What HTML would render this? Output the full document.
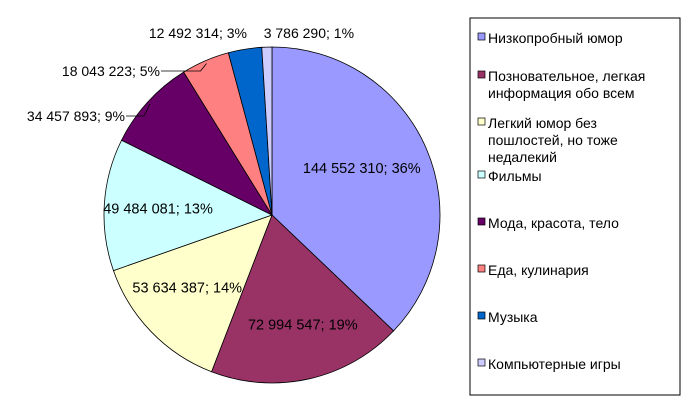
<!DOCTYPE html>
<html><head><meta charset="utf-8"><style>
body{margin:0;background:#fff;}
svg{display:block;font-family:"Liberation Sans",Arial,sans-serif;font-size:14px;}
</style></head><body>
<svg width="699" height="417">
<g id="slices"></g>
<g id="labels"></g>
<rect x="470" y="18" width="210" height="377" fill="#fff" stroke="#000" stroke-width="1"/>
<g id="legend"></g>
</svg>
<script>
const categories=["Низкопробный юмор","Позновательное, легкая информация обо всем","Легкий юмор без пошлостей, но тоже недалекий","Фильмы","Мода, красота, тело","Еда, кулинария","Музыка","Компьютерные игры"];
const values=[144552310,72994547,53634387,49484081,34457893,18043223,12492314,3786290];
const valueLabels=["144 552 310; 36%","72 994 547; 19%","53 634 387; 14%","49 484 081; 13%","34 457 893; 9%","18 043 223; 5%","12 492 314; 3%","3 786 290; 1%"];
const legendLines=[["Низкопробный юмор"],["Позновательное, легкая","информация обо всем"],["Легкий юмор без","пошлостей, но тоже","недалекий"],["Фильмы"],["Мода, красота, тело"],["Еда, кулинария"],["Музыка"],["Компьютерные игры"]];
const colors=["#9999ff","#993366","#ffffcc","#ccffff","#660066","#ff8080","#0066cc","#ccccff"];
const NS="http://www.w3.org/2000/svg";
const cx=272,cy=215,r=168;
const total=values.reduce((a,b)=>a+b,0);
const sG=document.getElementById('slices'),lG=document.getElementById('labels'),gG=document.getElementById('legend');
function pt(a,rad){return [cx+rad*Math.sin(a),cy-rad*Math.cos(a)];}
let acc=0;
values.forEach((v,i)=>{
  const a0=acc/total*2*Math.PI; acc+=v; const a1=acc/total*2*Math.PI;
  const p0=pt(a0,r),p1=pt(a1,r);
  const large=(a1-a0)>Math.PI?1:0;
  const p=document.createElementNS(NS,'path');
  p.setAttribute('d',`M${cx},${cy}L${p0[0]},${p0[1]}A${r},${r} 0 ${large} 1 ${p1[0]},${p1[1]}Z`);
  p.setAttribute('fill',colors[i]);p.setAttribute('stroke','#000');p.setAttribute('stroke-width','0.8');
  
  
  sG.appendChild(p);
  const am=(a0+a1)/2;
  const t=document.createElementNS(NS,'text');
  let x,y,anchor='middle';
  if(i<4){const q=pt(am,r*0.62);x=q[0]+(i==1?8:(i==0?-6:-10));y=q[1]+5+(i==1?8:(i==0?-6:0));t.setAttribute('font-size','14.5');}
  else if(i<6){const q=pt(am,r);
    const e=pt(am,r-3);
    x=(i==4?125:160);y=(i==4?121:76);anchor='end';
    const ln=document.createElementNS(NS,'polyline');
    ln.setAttribute('points',`${x+1},${y-5} ${e[0]-6},${y-5} ${e[0]},${e[1]}`);
    ln.setAttribute('fill','none');ln.setAttribute('stroke','#000');ln.setAttribute('stroke-width','0.8');
    
    
    lG.appendChild(ln);}
  else {const q=pt(am,r);x=(i==6?q[0]-47:q[0]+42);y=38;}
  t.setAttribute('x',x);t.setAttribute('y',y);t.setAttribute('text-anchor',anchor);
  t.textContent=valueLabels[i];
  
  
  lG.appendChild(t);
});
const legY=[43,81,128,181,228,275,322,369];
legendLines.forEach((lines,i)=>{
  const g=document.createElementNS(NS,'g');
  
  
  const s=document.createElementNS(NS,'rect');
  s.setAttribute('x',478);s.setAttribute('y',legY[i]-10);s.setAttribute('width',7);s.setAttribute('height',7);
  s.setAttribute('fill',colors[i]);s.setAttribute('stroke','#000');s.setAttribute('stroke-width','0.7');
  g.appendChild(s);
  lines.forEach((l,j)=>{const t=document.createElementNS(NS,'text');
    t.setAttribute('x',488);t.setAttribute('y',legY[i]+j*17);t.textContent=l;g.appendChild(t);});
  gG.appendChild(g);
});
</script>
</body></html>
